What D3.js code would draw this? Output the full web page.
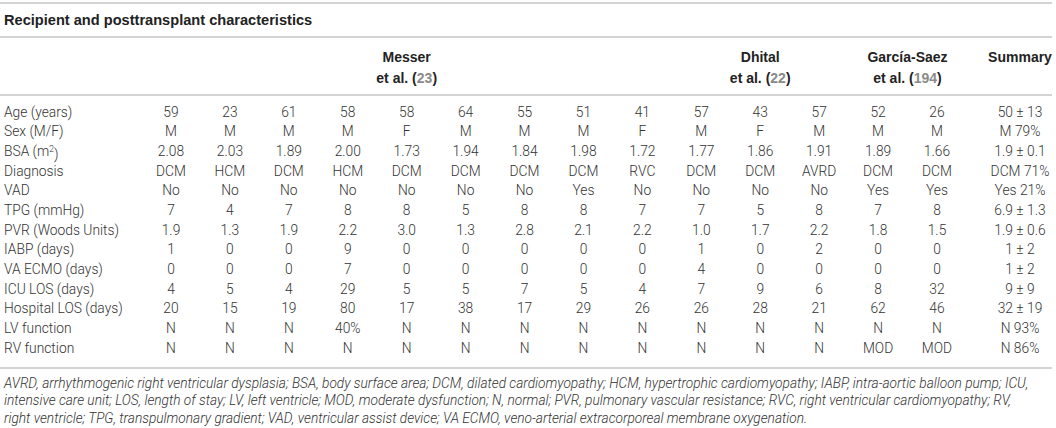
<!DOCTYPE html>
<html>
<head>
<meta charset="utf-8">
<script src="https://cdn.jsdelivr.net/npm/d3@7"></script>
<style>
  html, body { margin: 0; padding: 0; background: #fff; }
  svg { display: block; }
  .body { font-family: Roboto, "Liberation Sans", Arial, sans-serif; font-weight: 300; font-size: 13.8px; fill: #333; }
  .bold { font-family: "Liberation Sans", Arial, sans-serif; font-weight: bold; font-size: 14px; fill: #222; }
  .title { font-size: 14.6px; }
  .ref { fill: #8a8a8a; }
  .note { font-family: Roboto, "Liberation Sans", Arial, sans-serif; font-weight: 300; font-style: italic; font-size: 13.7px; fill: #333; }
</style>
</head>
<body>
<script>
// --- --- --- Data --- --- ---
const title = "Recipient and posttransplant characteristics";

const studies = ["Messer", "Dhital", "García-Saez"];
const studyRefs = ["23", "22", "194"];
const studySpans = [9, 3, 2];

const rowLabels = ["Age (years)", "Sex (M/F)", "BSA (m2)", "Diagnosis", "VAD", "TPG (mmHg)",
  "PVR (Woods Units)", "IABP (days)", "VA ECMO (days)", "ICU LOS (days)",
  "Hospital LOS (days)", "LV function", "RV function"];

const age = [59, 23, 61, 58, 58, 64, 55, 51, 41, 57, 43, 57, 52, 26];
const sex = ["M", "M", "M", "M", "F", "M", "M", "M", "F", "M", "F", "M", "M", "M"];
const bsa = [2.08, 2.03, 1.89, 2.00, 1.73, 1.94, 1.84, 1.98, 1.72, 1.77, 1.86, 1.91, 1.89, 1.66];
const diagnosis = ["DCM", "HCM", "DCM", "HCM", "DCM", "DCM", "DCM", "DCM", "RVC", "DCM", "DCM", "AVRD", "DCM", "DCM"];
const vad = ["No", "No", "No", "No", "No", "No", "No", "Yes", "No", "No", "No", "No", "Yes", "Yes"];
const tpg = [7, 4, 7, 8, 8, 5, 8, 8, 7, 7, 5, 8, 7, 8];
const pvr = [1.9, 1.3, 1.9, 2.2, 3.0, 1.3, 2.8, 2.1, 2.2, 1.0, 1.7, 2.2, 1.8, 1.5];
const iabp = [1, 0, 0, 9, 0, 0, 0, 0, 0, 1, 0, 2, 0, 0];
const vaEcmo = [0, 0, 0, 7, 0, 0, 0, 0, 0, 4, 0, 0, 0, 0];
const icuLos = [4, 5, 4, 29, 5, 5, 7, 5, 4, 7, 9, 6, 8, 32];
const hospitalLos = [20, 15, 19, 80, 17, 38, 17, 29, 26, 26, 28, 21, 62, 46];
const lvFunction = ["N", "N", "N", "40%", "N", "N", "N", "N", "N", "N", "N", "N", "N", "N"];
const rvFunction = ["N", "N", "N", "N", "N", "N", "N", "N", "N", "N", "N", "N", "MOD", "MOD"];

const summary = ["50 ± 13", "M 79%", "1.9 ± 0.1", "DCM 71%", "Yes 21%", "6.9 ± 1.3", "1.9 ± 0.6",
  "1 ± 2", "1 ± 2", "9 ± 9", "32 ± 19", "N 93%", "N 86%"];

const footnotes = [
  "AVRD, arrhythmogenic right ventricular dysplasia; BSA, body surface area; DCM, dilated cardiomyopathy; HCM, hypertrophic cardiomyopathy; IABP, intra-aortic balloon pump; ICU,",
  "intensive care unit; LOS, length of stay; LV, left ventricle; MOD, moderate dysfunction; N, normal; PVR, pulmonary vascular resistance; RVC, right ventricular cardiomyopathy; RV,",
  "right ventricle; TPG, transpulmonary gradient; VAD, ventricular assist device; VA ECMO, veno-arterial extracorporeal membrane oxygenation."
];

// --- --- --- Table --- --- ---
const f2 = d3.format(".2f"), f1 = d3.format(".1f");
const rows = [age, sex, bsa.map(f2), diagnosis, vad, tpg, pvr.map(f1), iabp, vaEcmo,
  icuLos, hospitalLos, lvFunction, rvFunction];

const width = 1056, height = 428;
const svg = d3.select("body").append("svg")
  .attr("width", width)
  .attr("height", height);

const left = 4;
const patients = d3.range(age.length);
const x = d3.scalePoint().domain(patients).range([171, 937]);
const xSummary = 1020;
const y = d3.scalePoint().domain(rowLabels).range([112, 348]);

// rules
const rules = [3, 37, 95, 368];
svg.selectAll("line.rule")
  .data(rules)
  .join("line")
  .attr("class", "rule")
  .attr("x1", 0).attr("x2", 1052)
  .attr("y1", d => d).attr("y2", d => d)
  .attr("stroke", "#c4c4c4")
  .attr("stroke-width", 1.5);

svg.append("text")
  .attr("class", "bold title")
  .attr("x", left).attr("y", 20).attr("dy", "0.35em")
  .text(title);

// study headers
let start = 0;
studies.forEach((name, i) => {
  const first = start, last = start + studySpans[i] - 1;
  const cx = (x(first) + x(last)) / 2;
  svg.append("text").attr("class", "bold")
    .attr("x", cx).attr("y", 57).attr("dy", "0.35em")
    .attr("text-anchor", "middle")
    .text(name);
  const t = svg.append("text").attr("class", "bold")
    .attr("x", cx).attr("y", 78).attr("dy", "0.35em")
    .attr("text-anchor", "middle");
  t.append("tspan").text("et al. (");
  t.append("tspan").attr("class", "ref").text(studyRefs[i]);
  t.append("tspan").text(")");
  start += studySpans[i];
});

svg.append("text").attr("class", "bold")
  .attr("x", xSummary).attr("y", 57).attr("dy", "0.35em")
  .attr("text-anchor", "middle")
  .text("Summary");

// row labels
svg.selectAll("text.label")
  .data(rowLabels)
  .join("text")
  .attr("class", "body label")
  .attr("x", left)
  .attr("y", d => y(d))
  .attr("dy", "0.35em")
  .each(function(d) {
    const t = d3.select(this);
    if (d === "BSA (m2)") {
      t.append("tspan").text("BSA (m");
      t.append("tspan").attr("font-size", "8.5px").attr("dy", "-0.5em").text("2");
      t.append("tspan").attr("dy", "0.5em").text(")");
    } else {
      t.text(d);
    }
  });

// cell values
rows.forEach((vals, r) => {
  svg.append("g")
    .selectAll("text")
    .data(vals)
    .join("text")
    .attr("class", "body")
    .attr("x", (d, i) => x(i))
    .attr("y", y(rowLabels[r]))
    .attr("dy", "0.35em")
    .attr("text-anchor", "middle")
    .text(d => d);
});

svg.append("g")
  .selectAll("text")
  .data(summary)
  .join("text")
  .attr("class", "body")
  .attr("x", xSummary)
  .attr("y", (d, i) => y(rowLabels[i]))
  .attr("dy", "0.35em")
  .attr("text-anchor", "middle")
  .text(d => d);

// footnotes
svg.selectAll("text.note")
  .data(footnotes)
  .join("text")
  .attr("class", "note")
  .attr("x", left)
  .attr("y", (d, i) => 383 + i * 17.5)
  .attr("dy", "0.35em")
  .text(d => d);
</script>
</body>
</html>
